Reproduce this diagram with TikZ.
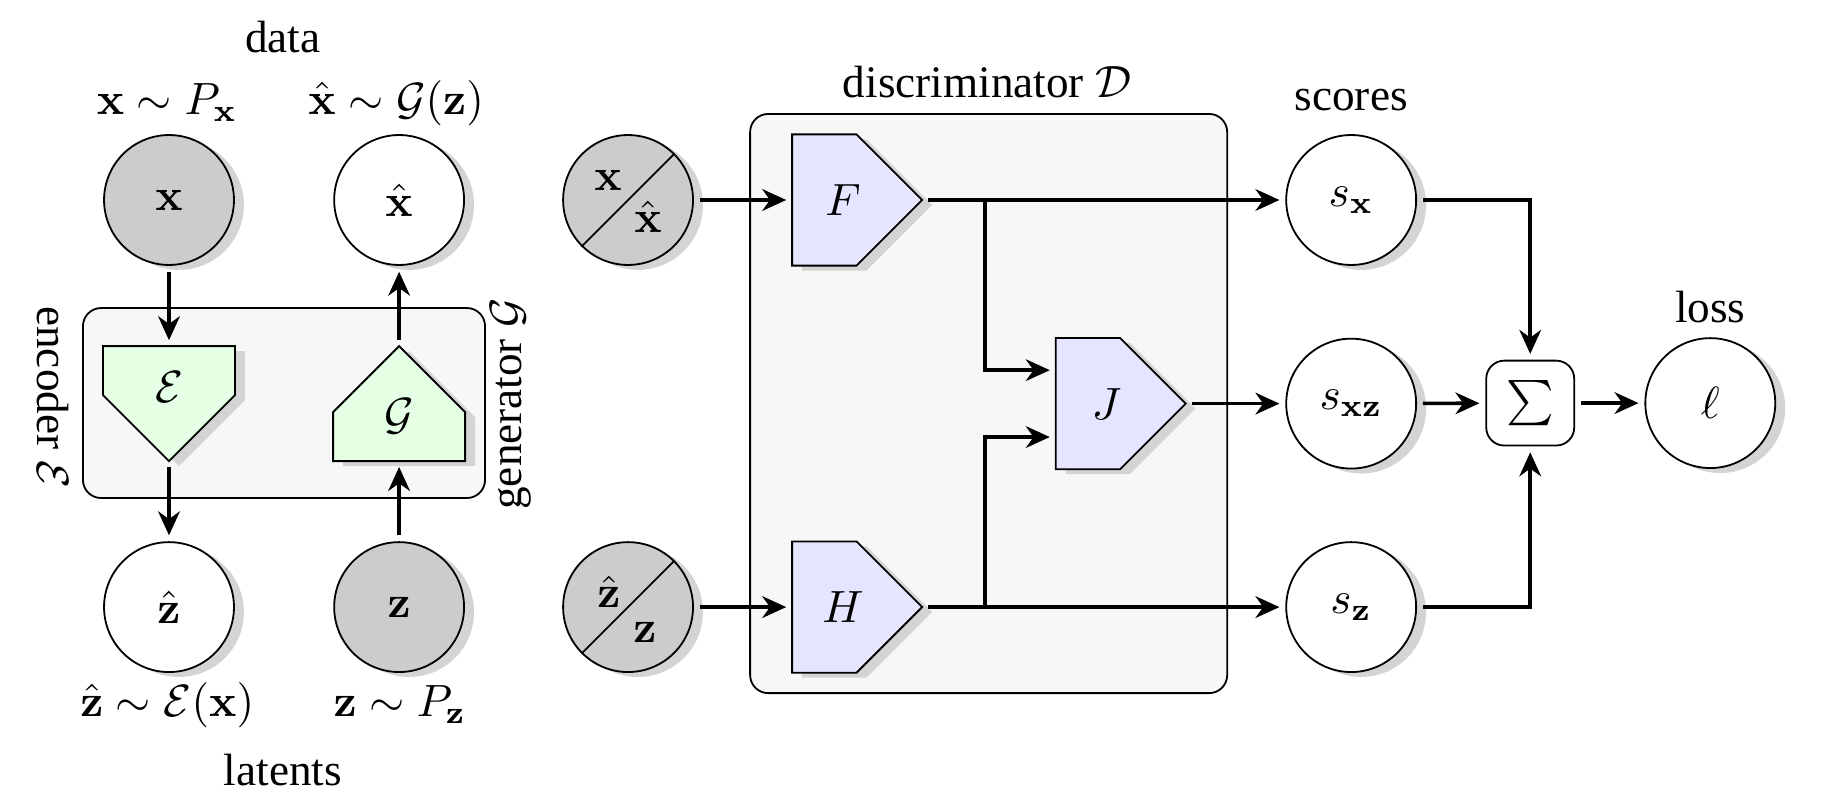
\documentclass[tikz,border=0pt]{standalone}
\usepackage[no-math]{fontspec}
\setmainfont{Liberation Serif}
\usepackage{amsmath}
\usepackage{amssymb}
\usepackage{tikz}
\usetikzlibrary{arrows.meta, positioning, calc, shadows}

\tikzset{
    shadowed/.style={drop shadow={shadow xshift=2.2pt, shadow yshift=-1.1pt, fill=black!17, opacity=1}},
    rv/.style={circle, draw, fill=white, minimum size=1.01cm, inner sep=0pt, shadowed},
    rvobs/.style={rv, fill=black!20},
    slot/.style={inner sep=0pt, outer sep=0pt},
    tag/.style={inner sep=1pt},
    encblock/.style={draw, fill=green!10, shadowed},
    discblock/.style={draw, fill=blue!10, shadowed},
    panel/.style={draw, rounded corners=4pt, fill=black!3},
    flow/.style={-{Stealth[length=5.3pt, width=4.8pt, inset=1.7pt]}, thick, shorten >=1.3pt, shorten <=1.3pt},
}

\begin{document}
\begin{tikzpicture}
        \path[use as bounding box] (0,0) rectangle (14.29,-6.27);
        % encoder / generator
        \draw[panel] (0.645,-2.395) rectangle (3.771,-3.872);
        \node[tag, rotate=-90] (enclabel) at (0.41,-3.09) {encoder $\mathcal{E}$};
        \node[tag, rotate=90] (genlabel) at (3.97,-3.14) {generator $\mathcal{G}$};
        \node[rvobs] (x) at (1.314,-1.555) {$\mathbf{x}$};
        \node[rv] (xhat) at (3.103,-1.555) {$\hat{\mathbf{x}}$};
        \node[rv] (zhat) at (1.314,-4.720) {$\hat{\mathbf{z}}$};
        \node[rvobs] (z) at (3.103,-4.720) {$\mathbf{z}$};
        \node[tag] (data) at (2.20,-0.29) {data};
        \node[tag] (latents) at (2.20,-5.99) {latents};
        \node[tag] (xdist) at (1.30,-0.80) {$\mathbf{x} \sim P_{\mathbf{x}}$};
        \node[tag] (xhatdist) at (3.08,-0.80) {$\hat{\mathbf{x}} \sim \mathcal{G}(\mathbf{z})$};
        \node[tag] (zhatdist) at (1.30,-5.48) {$\hat{\mathbf{z}} \sim \mathcal{E}(\mathbf{x})$};
        \node[tag] (zdist) at (3.11,-5.48) {$\mathbf{z} \sim P_{\mathbf{z}}$};
        \node[slot, minimum width=1.026cm, minimum height=0.894cm] (enc) at (1.314,-3.138) {};
        \draw[encblock] (enc.north west) -- (enc.north east) -- ++(0,-0.381) -- (enc.south)
            -- ($(enc.north west)+(0,-0.381)$) -- cycle;
        \node[tag] (enctext) at ($(enc)+(0,0.13)$) {$\mathcal{E}$};
        \node[slot, minimum width=1.026cm, minimum height=0.894cm] (gen) at (3.103,-3.138) {};
        \draw[encblock] (gen.south west) -- (gen.south east) -- ++(0,0.381) -- (gen.north)
            -- ($(gen.south west)+(0,0.381)$) -- cycle;
        \node[tag] (gentext) at ($(gen)+(0,-0.1)$) {$\mathcal{G}$};
        \draw[flow] (x) -- (enc);
        \draw[flow] (enc) -- (zhat);
        \draw[flow] (z) -- (gen);
        \draw[flow] (gen) -- (xhat);

        % discriminator
        \draw[panel] (5.832,-0.886) rectangle (9.541,-5.389);
        \node[tag] (disclabel) at (7.675,-0.64) {discriminator $\mathcal{D}$};
        \node[rvobs] (xmix) at (4.883,-1.555) {};
        \draw (xmix.225) -- (xmix.45);
        \node[tag] (xmixtop) at ($(xmix)+(-0.155,0.155)$) {$\mathbf{x}$};
        \node[tag] (xmixbot) at ($(xmix)+(0.155,-0.13)$) {$\hat{\mathbf{x}}$};
        \node[rvobs] (zmix) at (4.883,-4.720) {};
        \draw (zmix.225) -- (zmix.45);
        \node[tag] (zmixtop) at ($(zmix)+(-0.148,0.12)$) {$\hat{\mathbf{z}}$};
        \node[tag] (zmixbot) at ($(zmix)+(0.132,-0.2)$) {$\mathbf{z}$};
        \foreach \blk/\cx/\cy in {F/6.664/-1.555, H/6.664/-4.720, J/8.713/-3.138} {
            \node[slot, minimum width=1.011cm, minimum height=1.02cm] (\blk) at (\cx,\cy) {};
            \draw[discblock] (\blk.north west) -- ++(0.501,0) -- (\blk.east)
                -- ($(\blk.south west)+(0.501,0)$) -- (\blk.south west) -- cycle;
            \node[tag] (\blk text) at ($(\blk)+(-0.11,0)$) {$\blk$};
        }
        \draw[flow] (xmix) -- (F);
        \draw[flow] (zmix) -- (H);

        % scores and loss
        \node[rv] (sx) at (10.505,-1.555) {$s_{\mathbf{x}}$};
        \node[rv] (sxz) at (10.505,-3.138) {$s_{\mathbf{xz}}$};
        \node[rv] (sz) at (10.505,-4.720) {$s_{\mathbf{z}}$};
        \node[tag] (scores) at (10.505,-0.778) {scores};
        \node[draw, rounded corners=4pt, minimum width=0.684cm, minimum height=0.66cm, inner sep=0pt] (sum) at (11.897,-3.134) {$\sum$};
        \node[rv] (loss) at (13.297,-3.134) {$\ell$};
        \node[tag] (losslabel) at (13.297,-2.387) {loss};

        \coordinate (brF) at (7.659,-1.555);
        \coordinate (brH) at (7.659,-4.720);
        \coordinate (Jin1) at ($(J.west)+(0,0.26)$);
        \coordinate (Jin2) at ($(J.west)+(0,-0.26)$);
        \draw[flow] (F) -- (sx);
        \draw[flow] (H) -- (sz);
        \draw[flow, shorten <=0pt] (brF) |- (Jin1);
        \draw[flow, shorten <=0pt] (brH) |- (Jin2);
        \draw[flow] (J) -- (sxz);
        \draw[flow] (sx) -| (sum);
        \draw[flow] (sz) -| (sum);
        \draw[flow] (sxz) -- (sum);
        \draw[flow] (sum) -- (loss);
\end{tikzpicture}
\end{document}
